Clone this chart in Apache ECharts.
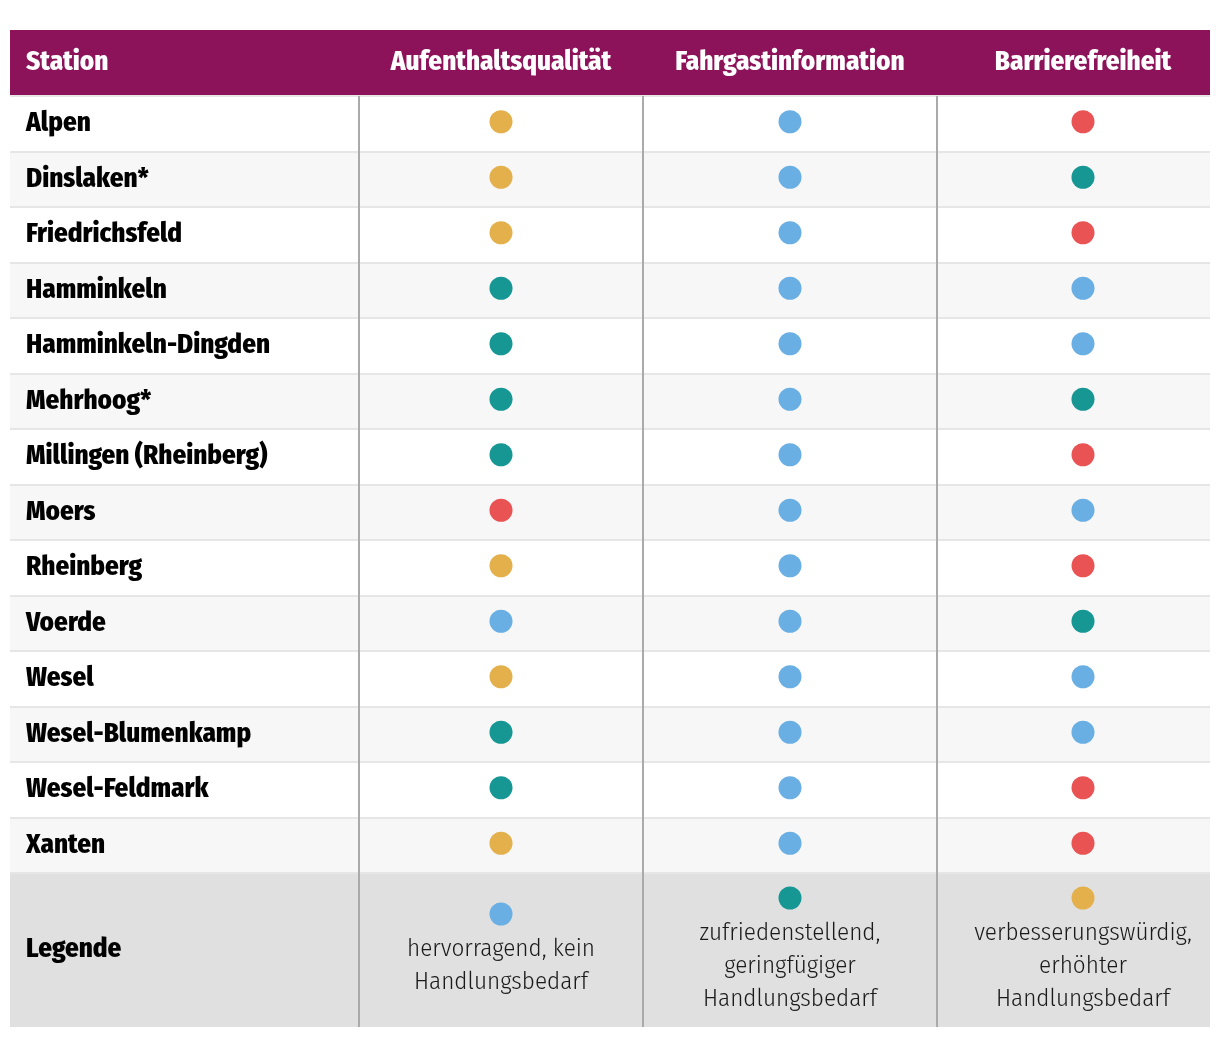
<!DOCTYPE html>
<html><head><meta charset="utf-8">
<script src="https://cdn.jsdelivr.net/npm/echarts@6/dist/echarts.min.js"></script>
<style>html,body{margin:0;padding:0;background:#fff}#c{width:1220px;height:1040px}</style>
</head><body><div id="c"></div>
<script>
const stations = ['Alpen','Dinslaken*','Friedrichsfeld','Hamminkeln','Hamminkeln-Dingden','Mehrhoog*','Millingen (Rheinberg)','Moers','Rheinberg','Voerde','Wesel','Wesel-Blumenkamp','Wesel-Feldmark','Xanten'];
const columns = ['Aufenthaltsqualität','Fahrgastinformation','Barrierefreiheit'];
// levels: 1 hervorragend, 2 zufriedenstellend, 3 verbesserungswürdig, 4 dringend
const aufenthalt = [3,3,3,2,2,2,2,4,3,1,3,2,2,3];
const fahrgast   = [1,1,1,1,1,1,1,1,1,1,1,1,1,1];
const barriere   = [4,2,4,1,1,2,4,1,4,2,1,1,4,4];
const legendLabels = ['hervorragend, kein\nHandlungsbedarf','zufriedenstellend,\ngeringfügiger\nHandlungsbedarf','verbesserungswürdig,\nerhöhter\nHandlungsbedarf'];
const levelColors = {1:'#6aafe3',2:'#169794',3:'#e4b04c',4:'#ea5354'};

const FB = "'Fira Sans Condensed','Liberation Sans Narrow','DejaVu Sans Condensed','Roboto Condensed',Roboto,sans-serif";
const TOP = 96, H = 777;
const colGrids = [{left:359,width:284},{left:643,width:294},{left:946,width:274}];
const colData = [aufenthalt, fahrgast, barriere];

const grids = [{left:10,top:TOP,width:1200,height:H}].concat(colGrids.map(g=>({left:g.left,top:TOP,width:g.width,height:H})));
const xAxes = [{gridIndex:0,type:'category',data:[''],show:false}].concat(columns.map((c,i)=>({
  gridIndex:i+1,type:'category',data:[c],position:'top',
  axisLine:{show:false},axisTick:{show:false},
  axisLabel:{color:'#fff',fontFamily:FB,fontWeight:800,fontSize:27,margin:34,verticalAlign:'middle'}
})));
const yAxes = [{gridIndex:0,type:'category',data:stations,inverse:true,
  axisLine:{show:false},axisTick:{show:false},
  axisLabel:{inside:true,margin:16,color:'#000',fontFamily:FB,fontWeight:800,fontSize:27,padding:[0,0,4,0]},
  splitLine:{show:true,lineStyle:{color:'#e6e6e6',width:2}},
  splitArea:{show:true,areaStyle:{color:['#ffffff','#f7f7f7']}}
}].concat(columns.map((c,i)=>({gridIndex:i+1,type:'category',data:stations,inverse:true,show:false})));

const series = colData.map((arr,i)=>({
  type:'scatter',xAxisIndex:i+1,yAxisIndex:i+1,symbolSize:23,symbolOffset:[0,-2],
  data:arr.map((lv,r)=>[0,r,lv]),
  itemStyle:{color:p=>levelColors[p.value[2]],opacity:1},
  emphasis:{disabled:true}
}));

const centers = colGrids.map(g=>g.left+g.width/2);
const graphic = [
  {type:'rect',shape:{x:10,y:30,width:1200,height:66},style:{fill:'#8c125a'},z:-1},
  {type:'text',x:26,y:62,style:{text:'Station',fill:'#fff',font:"800 27px "+FB,verticalAlign:'middle'}},
  {type:'rect',shape:{x:10,y:873,width:1200,height:154},style:{fill:'#e0e0e0'},z:-1},
  {type:'line',shape:{x1:10,y1:873,x2:1210,y2:873},style:{stroke:'#cccccc',lineWidth:2}},
  {type:'text',x:26,y:949,style:{text:'Legende',fill:'#000',font:"800 27px "+FB,verticalAlign:'middle'}}
];
[359,643,937].forEach(x=>graphic.push({type:'line',shape:{x1:x,y1:96,x2:x,y2:1027},style:{stroke:'#aaaaaa',lineWidth:2},z:10}));
legendLabels.forEach((t,i)=>{
  const n = t.split('\n').length;
  const lh = 33;
  const firstLine = n===2?949:933;
  graphic.push({type:'circle',shape:{cx:centers[i],cy:firstLine-35,r:11.5},style:{fill:levelColors[i+1]}});
  graphic.push({type:'text',x:centers[i],y:firstLine-lh/2,style:{text:t,fill:'#1a1a1a',font:"300 25px "+FB,align:'center',verticalAlign:'top',lineHeight:lh}});
});

const chart = echarts.init(document.getElementById('c'),null,{renderer:'canvas'});
chart.setOption({animation:false,grid:grids,xAxis:xAxes,yAxis:yAxes,series:series,graphic:graphic});
</script></body></html>
